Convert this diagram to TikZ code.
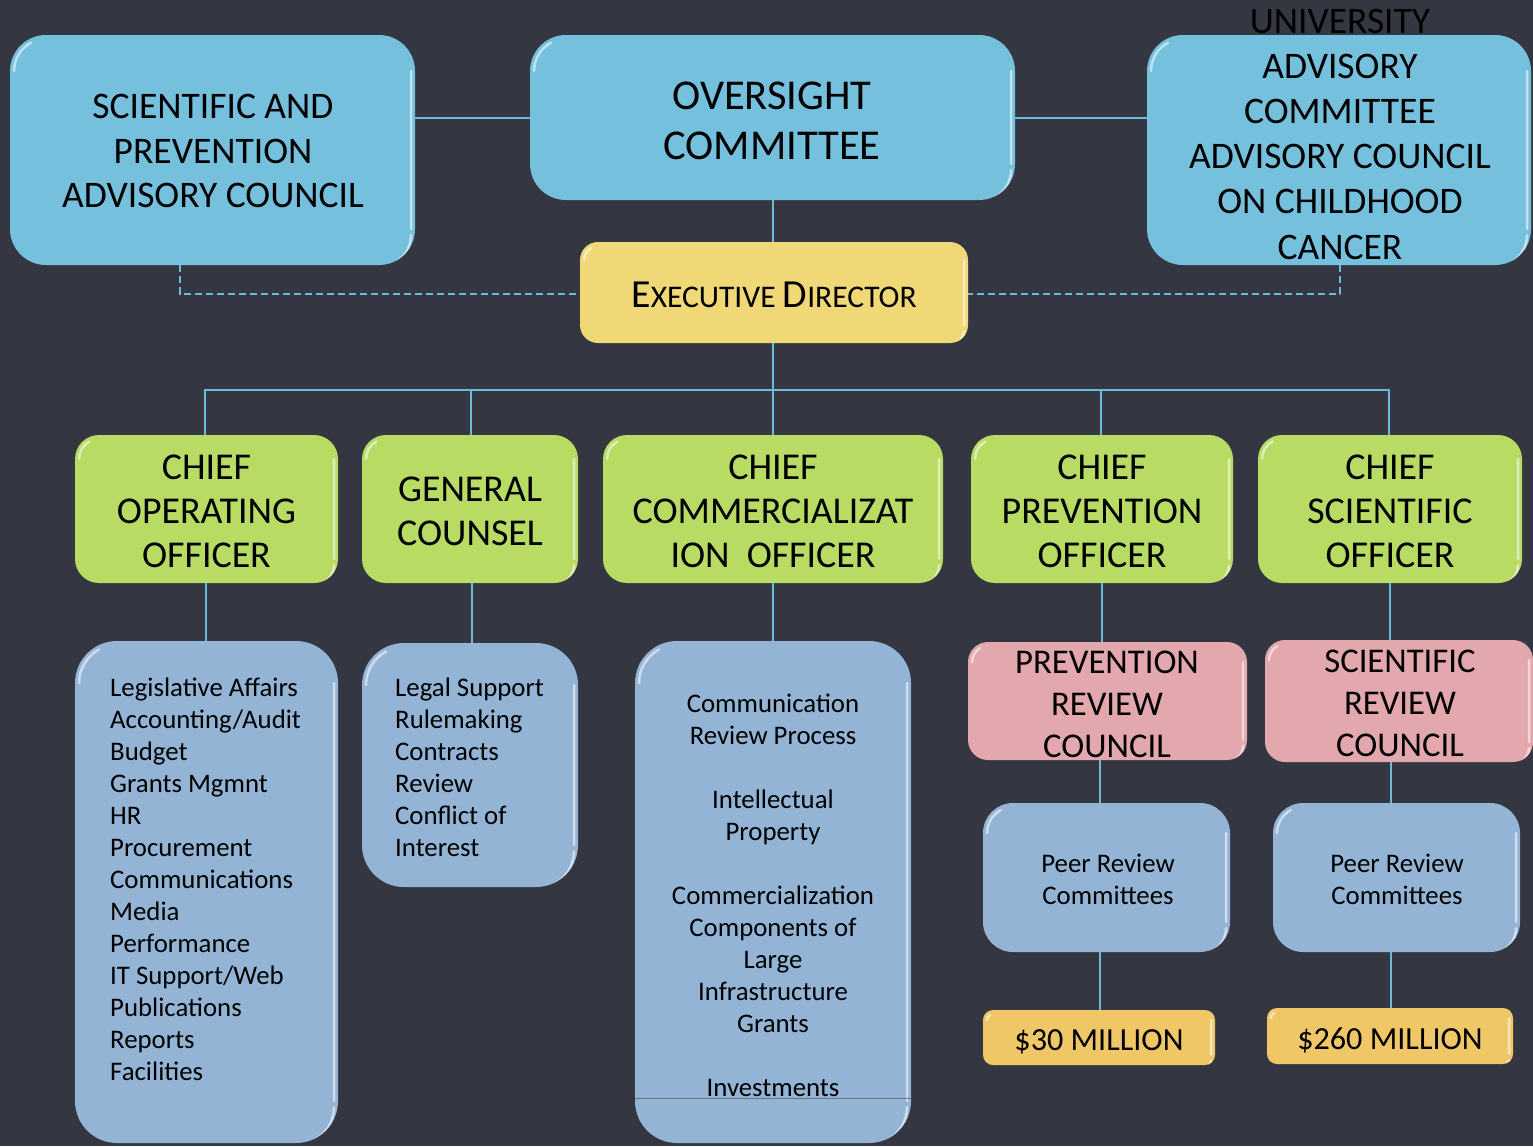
\documentclass[tikz,border=0pt]{standalone}
\usepackage{fontspec}
\setmainfont{Carlito}
\definecolor{bg}{HTML}{343741}
\definecolor{topblue}{HTML}{75C0DC}
\definecolor{edyel}{HTML}{F0D877}
\definecolor{grn}{HTML}{B8DB63}
\definecolor{listblue}{HTML}{94B4D6}
\definecolor{pink}{HTML}{E3A8AE}
\definecolor{money}{HTML}{F0C766}
\definecolor{conn}{HTML}{6CBAD8}
\tikzset{
  gloss/.style={path picture={
    \draw[x=1pt, y=1pt, white, opacity=0.55, line width=2.5pt, line cap=round]
      ([xshift=4pt,yshift=-#1]path picture bounding box.north west) arc[start angle=180, end angle=118, radius=#1-4pt]
      ([xshift=-4pt,yshift=-#1]path picture bounding box.north east) -- ([xshift=-4pt,yshift=#1]path picture bounding box.south east)
      ([xshift=-4pt,yshift=#1-6pt]path picture bounding box.south east) arc[start angle=0, end angle=-62, radius=#1-4pt];
  }},
  shp/.style={draw=none, inner sep=0pt, minimum width=#1},
  topbox/.style={fill=topblue, rounded corners=36pt, gloss=36pt},
  edbox/.style={fill=edyel, rounded corners=18pt, gloss=18pt},
  grnbox/.style={fill=grn, rounded corners=24pt, gloss=24pt},
  listbox/.style={fill=listblue, rounded corners=42pt, gloss=42pt},
  pinkbox/.style={fill=pink, rounded corners=20pt, gloss=20pt},
  peerbox/.style={fill=listblue, rounded corners=30pt, gloss=30pt},
  monbox/.style={fill=money, rounded corners=10pt, gloss=10pt},
  txt/.style={inner sep=0pt, align=center, text=black},
  big/.style={txt, font=\fontsize{37.5}{44.5}\selectfont},
  huge/.style={txt, font=\fontsize{42.5}{50}\selectfont},
  mid/.style={txt, font=\fontsize{37.9}{44}\selectfont},
  pk/.style={txt, font=\fontsize{34.7}{42}\selectfont},
  sml/.style={txt, font=\fontsize{26.8}{32}\selectfont},
  mon/.style={txt, font=\fontsize{32.2}{36}\selectfont},
  lnk/.style={draw=conn, line width=1.8pt},
  dlnk/.style={draw=conn, line width=1.8pt, dash pattern=on 7pt off 4pt},
}
\begin{document}
\begin{tikzpicture}[x=1pt,y=-1pt]
\fill[bg] (0,0) rectangle (1533,1146);
\useasboundingbox (0,0) rectangle (1533,1146);
% top row
\node[shp=405pt, minimum height=230pt, topbox] (spac) at (212.5,150) {};
\node[big] (spact) at (213,151) {SCIENTIFIC AND\\PREVENTION\\ADVISORY COUNCIL};
\node[shp=485pt, minimum height=165pt, topbox] (ovs) at (772.5,117.5) {};
\node[huge] (ovst) at (772,121) {OVERSIGHT\\COMMITTEE};
\node[shp=384pt, minimum height=230pt, topbox] (uacc) at (1339,150) {};
\node[big, font=\fontsize{37.5}{45.2}\selectfont] (uacct) at (1340,134) {UNIVERSITY\\ADVISORY\\COMMITTEE\\ADVISORY COUNCIL\\ON CHILDHOOD\\CANCER};
% executive
\node[shp=388pt, minimum height=101pt, edbox] (ed) at (774,292.5) {};
\node[txt] (edt) at (774,295) {\fontsize{39.8}{42}\selectfont E\fontsize{31.5}{33}\selectfont XECUTIVE \fontsize{39.8}{42}\selectfont D\fontsize{31.5}{33}\selectfont IRECTOR};
% green row
\node[shp=263pt, minimum height=148pt, grnbox] (coo) at (206.5,509) {};
\node[mid] (coot) at (206.5,511) {CHIEF\\OPERATING\\OFFICER};
\node[shp=216pt, minimum height=148pt, grnbox] (gc) at (470,509) {};
\node[mid] (gct) at (470,511) {GENERAL\\COUNSEL};
\node[shp=340pt, minimum height=148pt, grnbox] (cco) at (773,509) {};
\node[mid] (ccot) at (773,511) {CHIEF\\COMMERCIALIZAT\\ION\ \ OFFICER};
\node[shp=262pt, minimum height=148pt, grnbox] (cpo) at (1102,509) {};
\node[mid] (cpot) at (1102,511) {CHIEF\\PREVENTION\\OFFICER};
\node[shp=264pt, minimum height=148pt, grnbox] (cso) at (1390,509) {};
\node[mid] (csot) at (1390,511) {CHIEF\\SCIENTIFIC\\OFFICER};
% lists
\node[shp=263pt, minimum height=502pt, listbox] (cool) at (206.5,892) {};
\node[sml, align=left, anchor=north west] (coolt) at (110,678) {Legislative Affairs\\Accounting/Audit\\Budget\\Grants Mgmnt\\HR\\Procurement\\Communications\\Media\\Performance\\IT Support/Web\\Publications\\Reports\\Facilities};
\node[shp=216pt, minimum height=244pt, listbox] (gcl) at (470,765) {};
\node[sml, align=left, anchor=north west] (gclt) at (395,678) {Legal Support\\Rulemaking\\Contracts\\Review\\Conflict of\\Interest};
\node[shp=276pt, minimum height=502pt, listbox] (ccol) at (773,892) {};
\node[sml, anchor=north] (ccolt) at (773,694) {Communication\\Review Process\\[32pt]Intellectual\\Property\\[32pt]Commercialization\\Components of\\Large\\Infrastructure\\Grants\\[32pt]Investments};
\draw[draw=black!55, line width=1pt] (ccol.west |- 0,1098) coordinate (cl1) -- (ccol.east |- 0,1098) coordinate (cl2);
% pink
\node[shp=279pt, minimum height=118pt, pinkbox] (prc) at (1107.5,701) {};
\node[pk] (prct) at (1107,704) {PREVENTION\\REVIEW\\COUNCIL};
\node[shp=268pt, minimum height=122pt, pinkbox] (src) at (1399,701) {};
\node[pk] (srct) at (1400,703) {SCIENTIFIC\\REVIEW\\COUNCIL};
% peer
\node[shp=247pt, minimum height=149pt, peerbox] (pr1) at (1106.5,877.5) {};
\node[sml] (pr1t) at (1108,879) {Peer Review\\Committees};
\node[shp=247pt, minimum height=149pt, peerbox] (pr2) at (1396.5,877.5) {};
\node[sml] (pr2t) at (1397,879) {Peer Review\\Committees};
% money
\node[shp=232pt, minimum height=55pt, monbox] (m1) at (1099,1037.5) {};
\node[mon] (m1t) at (1099,1042) {\$30 MILLION};
\node[shp=246pt, minimum height=56pt, monbox] (m2) at (1390,1036) {};
\node[mon] (m2t) at (1390,1040) {\$260 MILLION};
% connectors
\draw[lnk] (spac.east |- 0,118) -- (ovs.west |- 0,118);
\draw[lnk] (ovs.east |- 0,118) -- (uacc.west |- 0,118);
\draw[lnk] (ovs.south -| 773,0) -- (ed.north -| 773,0);
\draw[dlnk] (spac.south -| 180,0) |- (ed.west |- 0,294);
\draw[dlnk] (uacc.south -| 1340,0) |- (ed.east |- 0,294);
\coordinate (bus) at (773,390);
\draw[lnk] (ed.south -| 773,0) -- (bus);
\draw[lnk] (coo.north -| 205,0) |- (bus) -| (cso.north -| 1389,0);
\draw[lnk] (bus -| 471,0) -- (gc.north -| 471,0);
\draw[lnk] (bus) -- (cco.north -| 773,0);
\draw[lnk] (bus -| 1101,0) -- (cpo.north -| 1101,0);
\draw[lnk] (coo.south -| 206,0) -- (cool.north -| 206,0);
\draw[lnk] (gc.south -| 472,0) -- (gcl.north -| 472,0);
\draw[lnk] (cco.south -| 773,0) -- (ccol.north -| 773,0);
\draw[lnk] (cpo.south -| 1102,0) -- (prc.north -| 1102,0);
\draw[lnk] (cso.south -| 1390,0) -- (src.north -| 1390,0);
\draw[lnk] (prc.south -| 1100,0) -- (pr1.north -| 1100,0);
\draw[lnk] (src.south -| 1391,0) -- (pr2.north -| 1391,0);
\draw[lnk] (pr1.south -| 1100,0) -- (m1.north -| 1100,0);
\draw[lnk] (pr2.south -| 1391,0) -- (m2.north -| 1391,0);
\end{tikzpicture}
\end{document}
